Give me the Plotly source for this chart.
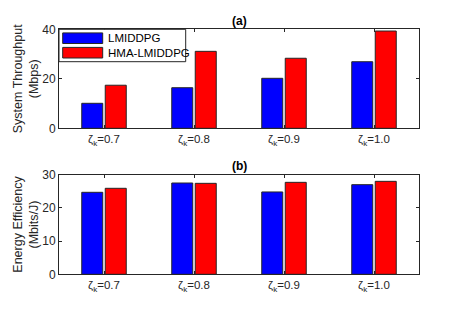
import plotly.graph_objects as go

categories = ["ζ<sub>k</sub>=0.7", "ζ<sub>k</sub>=0.8", "ζ<sub>k</sub>=0.9", "ζ<sub>k</sub>=1.0"]
series_names = ["LMIDDPG", "HMA-LMIDDPG"]
throughput_lmiddpg = [10.1, 16.4, 20.2, 26.9]
throughput_hma = [17.4, 31.1, 28.3, 39.3]
ee_lmiddpg = [24.7, 27.5, 24.8, 27.0]
ee_hma = [25.9, 27.4, 27.7, 28.0]
colors = ["#0000ff", "#ff0000"]

W, H = 463, 309
def px(x): return x / W
def py(y): return 1 - y / H

FONT = "Liberation Sans, Arial, Helvetica, sans-serif"
AX = "#262626"
xpos = [1, 2, 3, 4]

fig = go.Figure()
for vals, name, col, axes in [
    (throughput_lmiddpg, series_names[0], colors[0], ("x", "y")),
    (throughput_hma, series_names[1], colors[1], ("x", "y")),
    (ee_lmiddpg, series_names[0], colors[0], ("x2", "y2")),
    (ee_hma, series_names[1], colors[1], ("x2", "y2")),
]:
    fig.add_trace(go.Bar(x=xpos, y=vals, name=name, xaxis=axes[0], yaxis=axes[1],
                         marker=dict(color=col, line=dict(color="#262626", width=1)),
                         showlegend=False))

xdom = [px(59), px(419)]
common_x = dict(range=[0.5, 4.5], tickmode="array", tickvals=xpos, ticktext=categories,
                showgrid=False, zeroline=False, showline=True, linecolor=AX, linewidth=1,
                mirror="allticks", ticks="inside", ticklen=3, tickcolor=AX, automargin=False,
                tickfont=dict(family=FONT, size=11.5, color=AX), domain=xdom, fixedrange=True)
common_y = dict(showgrid=False, zeroline=False, showline=True, linecolor=AX, linewidth=1,
                mirror="allticks", ticks="inside", ticklen=3, tickcolor=AX, automargin=False,
                tickfont=dict(family=FONT, size=12, color=AX),
                title=dict(font=dict(family=FONT, size=12.5, color=AX), standoff=0))

fig.update_layout(
    width=W, height=H, margin=dict(l=0, r=0, t=0, b=0),
    paper_bgcolor="white", plot_bgcolor="white",
    barmode="group", bargap=0.478, bargroupgap=0.106,
    xaxis=dict(**common_x, anchor="y"),
    xaxis2=dict(**common_x, anchor="y2"),
    yaxis=dict(**common_y, range=[0, 40], tickvals=[0, 20, 40], anchor="x",
               domain=[py(128.3), py(29.3)]),
    yaxis2=dict(**common_y, range=[0, 30], tickvals=[0, 10, 20, 30], anchor="x2",
                domain=[py(274.3), py(174.7)]),
    font=dict(family=FONT, color=AX),
)
fig.layout.yaxis.title.text = "System Throughput<br>(Mbps)"
fig.layout.yaxis2.title.text = "Energy Efficiency<br>(Mbits/J)"

# panel titles
fig.add_annotation(text="<b>(a)</b>", x=(xdom[0] + xdom[1]) / 2, y=py(20.5), xref="paper", yref="paper",
                   xanchor="center", yanchor="middle",
                   showarrow=False, font=dict(family=FONT, size=12, color="black"))
fig.add_annotation(text="<b>(b)</b>", x=(xdom[0] + xdom[1]) / 2, y=py(165.5), xref="paper", yref="paper",
                   xanchor="center", yanchor="middle",
                   showarrow=False, font=dict(family=FONT, size=12, color="black"))

# custom legend (MATLAB-style wide swatches)
fig.add_shape(type="rect", xref="paper", yref="paper", x0=px(59), x1=px(185.7), y0=py(61.7), y1=py(29.3),
              line=dict(color=AX, width=1), fillcolor="white")
for i, (name, col) in enumerate(zip(series_names, colors)):
    yc = 38.2 + i * 14.5
    fig.add_shape(type="rect", xref="paper", yref="paper", x0=px(62.7), x1=px(102.7),
                  y0=py(yc + 5.3), y1=py(yc - 5.3), line=dict(color="#262626", width=1), fillcolor=col)
    fig.add_annotation(text=name, x=px(105.5), y=py(yc), xref="paper", yref="paper", xanchor="left",
                       yanchor="middle", showarrow=False, font=dict(family=FONT, size=11.5, color="black"))

fig.write_html("out.html", config={"displayModeBar": False},
               post_script="document.body.style.margin='0';document.body.style.overflow='hidden';")
